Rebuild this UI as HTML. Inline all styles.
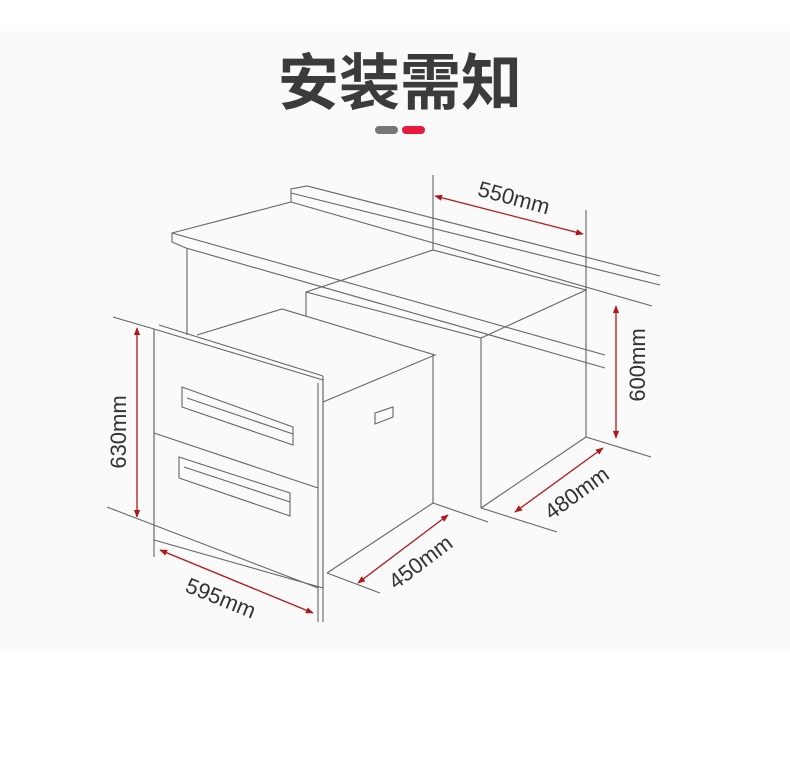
<!DOCTYPE html>
<html><head><meta charset="utf-8"><style>
html,body{margin:0;padding:0;background:#fff;width:790px;height:771px;overflow:hidden}
</style></head><body>
<svg width="790" height="771" viewBox="0 0 790 771" xmlns="http://www.w3.org/2000/svg" font-family="Liberation Sans, DejaVu Sans, sans-serif">
<defs>
<marker id="a" viewBox="0 0 10 10" refX="9" refY="5" markerWidth="6" markerHeight="6" orient="auto-start-reverse"><path d="M0,1 L10,5 L0,9 z" fill="#b01818"/></marker>
</defs>
<rect x="0" y="31" width="790" height="621" fill="#fafafa"/>
<text x="400" y="104" text-anchor="middle" font-family="Liberation Sans, Noto Sans CJK SC, sans-serif" font-weight="bold" font-size="61" fill="#3b3b3b">安装需知</text>
<rect x="375" y="126" width="23" height="8" rx="4" fill="#777"/>
<rect x="402" y="126" width="23" height="8" rx="4" fill="#e8193c"/>
<g stroke="#666" stroke-width="1.1" fill="none">
<polyline points="291,202 291,189 307,186 660,276"/>
<line x1="291" y1="193" x2="660" y2="285"/>
<line x1="291" y1="202" x2="652" y2="306"/>
<polyline points="291,202 172,233 172,242 186,248"/>
<line x1="172" y1="233" x2="605" y2="355"/>
<line x1="186" y1="248" x2="605" y2="368"/>
<line x1="187" y1="248" x2="187" y2="335"/>
<line x1="433" y1="175" x2="433" y2="250"/>
<line x1="586" y1="210" x2="586" y2="437"/>
<polyline points="306,316 306,292 433,250 586,290 481,338 306,292"/>
<line x1="481" y1="338" x2="481" y2="508"/>
<line x1="481" y1="508" x2="586" y2="437"/>
<line x1="586" y1="437" x2="651" y2="457"/>
<line x1="481" y1="508" x2="557" y2="532"/>
<line x1="433" y1="503" x2="488" y2="522"/>
<line x1="433" y1="355" x2="433" y2="503"/>
<polyline points="197,335 282,309 435,355 323,402"/>
<line x1="327" y1="573" x2="433" y2="503"/>
<line x1="327" y1="573" x2="380" y2="593"/>
<polygon points="375,413 393,407 393,417 375,424"/>
<polygon points="154,329 323,380 323,588 154,540" fill="#fafafa"/>
<line x1="159" y1="325" x2="323" y2="376"/>
<line x1="323" y1="376" x2="323" y2="622"/>
<line x1="318" y1="383" x2="318" y2="622"/>
<line x1="154" y1="329" x2="154" y2="557"/>
<line x1="113" y1="317" x2="154" y2="329"/>
<line x1="107" y1="507" x2="318" y2="588"/>
<line x1="154" y1="433" x2="318" y2="488"/>
<polygon points="182,387 293,427 293,445 182,407"/>
<line x1="187" y1="398" x2="293" y2="434"/>
<polygon points="179,457 290,493 290,516 179,478"/>
<line x1="184" y1="467" x2="290" y2="502"/>
</g>
<g stroke="#b01818" stroke-width="1.3" marker-start="url(#a)" marker-end="url(#a)">
<line x1="137" y1="328" x2="137" y2="517"/>
<line x1="160" y1="550" x2="313" y2="613"/>
<line x1="358" y1="583" x2="448" y2="515"/>
<line x1="435" y1="196" x2="583" y2="234"/>
<line x1="616" y1="306" x2="616" y2="438"/>
<line x1="515" y1="512" x2="603" y2="448"/>
</g>
<g fill="#333" font-size="22" text-anchor="middle">
<text transform="translate(126,432) rotate(-90)">630mm</text>
<text transform="translate(218,605) rotate(22)">595mm</text>
<text transform="translate(425,568) rotate(-37)">450mm</text>
<text transform="translate(512,205) rotate(15)">550mm</text>
<text transform="translate(645,365) rotate(-90)">600mm</text>
<text transform="translate(581,499) rotate(-36)">480mm</text>
</g>
</svg>
</body></html>
